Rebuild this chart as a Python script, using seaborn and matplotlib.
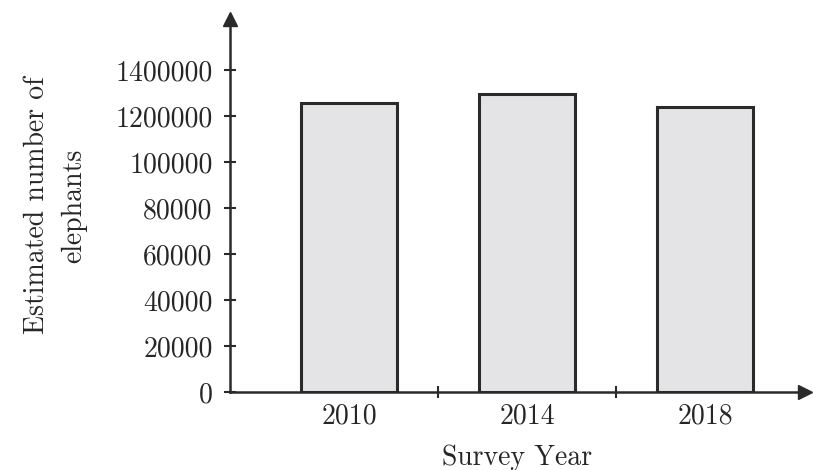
import numpy as np
import seaborn as sns
import matplotlib.pyplot as plt

# survey data
years = ["2010", "2014", "2018"]
elephants = [1258000, 1296000, 1240000]

# the axis labels are evenly spaced even though the values are not
tick_values = [0, 20000, 40000, 60000, 80000, 100000, 1200000, 1400000]
tick_labels = ["0", "20000", "40000", "60000", "80000", "100000", "1200000", "1400000"]

# piecewise scale: tick i sits at position i
_vals = np.array([-1e9, 0, 100000, 1200000, 1e9])
_pos = np.array([-1e9 / 20000, 0, 5, 6, 6 + (1e9 - 1200000) / 200000])


def forward(v):
    return np.interp(v, _vals, _pos)


def inverse(p):
    return np.interp(p, _pos, _vals)


sns.set_style('white')
plt.rcParams['font.family'] = ['cmr10', 'DejaVu Serif']
plt.rcParams['axes.formatter.use_mathtext'] = True

fig = plt.figure(figsize=(8.13, 4.70), dpi=100)
ax = fig.add_axes([230 / 813, 78 / 470, 575 / 813, 373 / 470])

sns.barplot(x=years, y=elephants, color='#e4e4e6', saturation=1,
            edgecolor='#2a2a2a', linewidth=2.2, width=0.54, ax=ax)

ax.set_yscale('function', functions=(forward, inverse))
ax.set_xlim(-0.669, 2.562)
ax.set_ylim(0, inverse(8.11))
ax.set_yticks(tick_values, labels=tick_labels)
ax.set_xticks([0.5, 1.5], minor=True)

for side in ['top', 'right']:
    ax.spines[side].set_visible(False)
for side in ['left', 'bottom']:
    ax.spines[side].set_linewidth(1.8)
    ax.spines[side].set_color('#2a2a2a')

ax.tick_params(axis='y', direction='inout', length=9, width=1.5, color='#2a2a2a',
               labelsize=20, pad=8, left=True)
ax.tick_params(axis='x', which='major', length=0, labelsize=20, pad=8)
ax.tick_params(axis='x', which='minor', direction='inout', length=9, width=1.5,
               color='#2a2a2a', bottom=True)

# arrow heads on the axes
ax.plot(1, 0, '>', ms=10, color='#2a2a2a', transform=ax.transAxes, clip_on=False)
ax.plot(0, 1, '^', ms=10, color='#2a2a2a', transform=ax.transAxes, clip_on=False)

ax.set_xlabel('Survey Year', fontsize=20, labelpad=11)
ax.set_ylabel('Estimated number of\nelephants', fontsize=20, labelpad=20, linespacing=1.55)

plt.savefig('out.png', dpi=100)
